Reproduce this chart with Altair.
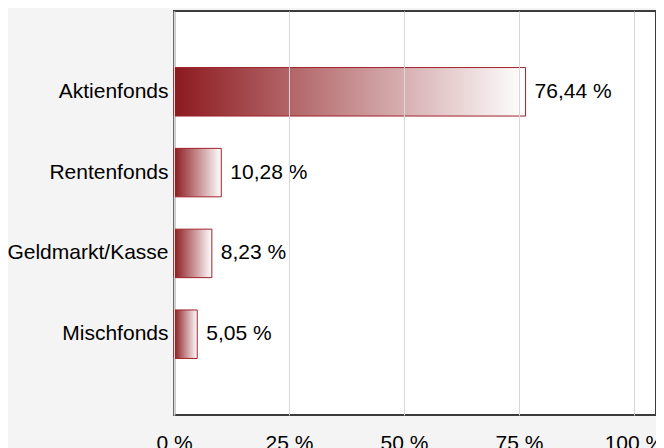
import altair as alt
import pandas as pd

categories = ["Aktienfonds", "Rentenfonds", "Geldmarkt/Kasse", "Mischfonds"]
values = [76.44, 10.28, 8.23, 5.05]
tick_values = [0, 25, 50, 75, 100]

df = pd.DataFrame({
    "cat": categories,
    "val": values,
    "label": [f"{v:.2f}".replace(".", ",") + " %" for v in values],
})

FONT = "Liberation Sans"
FS = 21

x_enc = alt.X(
    "val:Q",
    scale=alt.Scale(domain=[0, 104.8], nice=False, zero=True),
    axis=alt.Axis(
        values=tick_values,
        labelExpr="datum.value + ' %'",
        title=None,
        ticks=False,
        domain=False,
        grid=True,
        gridColor="#d8d8d8",
        gridWidth=1,
        labelFontSize=FS,
        labelFont=FONT,
        labelColor="#000000",
        labelPadding=17,
        labelFlush=False,
        zindex=1,
    ),
)
y_enc = alt.Y(
    "cat:N",
    sort=categories,
    scale=alt.Scale(paddingInner=0.4, paddingOuter=0.7),
    axis=alt.Axis(
        title=None,
        ticks=False,
        domain=True,
        domainColor="#9a9a9a",
        domainWidth=2,
        labelFontSize=FS,
        labelFont=FONT,
        labelColor="#000000",
        labelPadding=6,
    ),
)

bars = alt.Chart(df).mark_bar(
    color=alt.Gradient(
        gradient="linear",
        stops=[
            alt.GradientStop(color="#8c191e", offset=0),
            alt.GradientStop(color="#ffffff", offset=1),
        ],
        x1=0, x2=1, y1=0, y2=0,
    ),
    stroke="#a0222a",
    strokeWidth=1,
).encode(x=x_enc, y=y_enc)

text = alt.Chart(df).mark_text(
    align="left", baseline="middle", dx=9, fontSize=FS, font=FONT, color="#000000"
).encode(x="val:Q", y=alt.Y("cat:N", sort=categories), text="label:N")

chart = (bars + text).properties(
    width=482,
    height=404,
    autosize=alt.AutoSizeParams(type="none"),
    padding={"left": 166, "top": 3, "right": 0, "bottom": 41},
    background="#f4f4f4",
).configure_view(
    fill="#ffffff",
    stroke="#3c3c3c",
    strokeWidth=2,
)

chart.save("out.html", embed_options={"renderer": "svg", "actions": False})
